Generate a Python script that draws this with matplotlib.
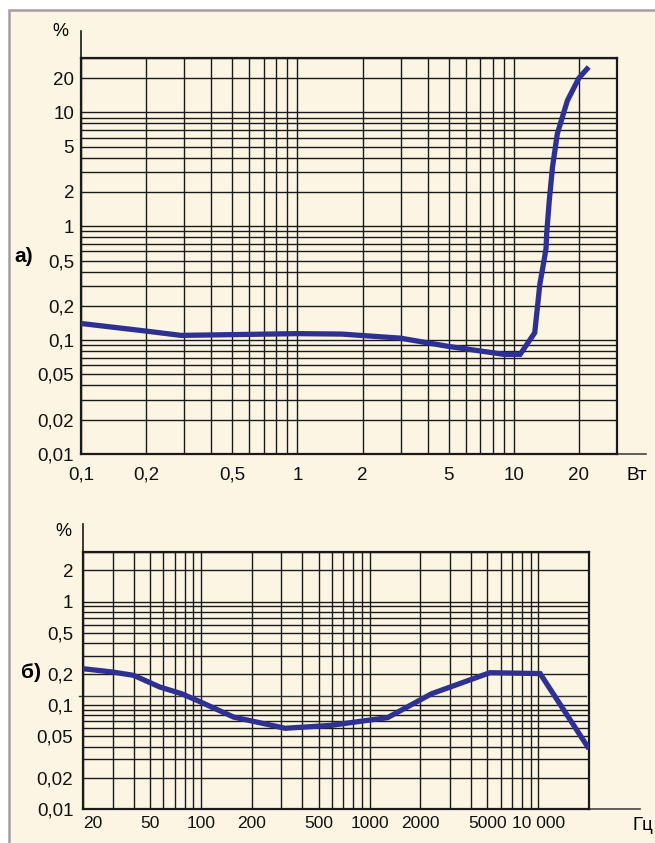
import matplotlib
matplotlib.use("Agg")
import matplotlib.pyplot as plt
from matplotlib.patches import Rectangle
from matplotlib.ticker import FixedLocator, LogLocator, NullFormatter

plt.rcParams["font.family"] = ["Liberation Sans Narrow", "Liberation Sans", "DejaVu Sans"]

# ── data ─────────────────────────────────────────────────────────────────────
# a) THD vs output power
power_w = [0.1, 0.2, 0.29, 1.0, 1.6, 3.0, 5.0, 9.0, 10.7, 12.5, 13.2, 13.8,
           14.1, 14.2, 14.6, 15.1, 15.9, 17.7, 20.0, 22.2]
thd_a = [0.14, 0.12, 0.11, 0.114, 0.113, 0.104, 0.088, 0.075, 0.075, 0.116,
         0.31, 0.50, 0.64, 0.87, 1.7, 3.3, 6.5, 12.7, 20.0, 25.0]

xticks_a = [0.1, 0.2, 0.5, 1, 2, 5, 10, 20]
xlabels_a = ["0,1", "0,2", "0,5", "1", "2", "5", "10", "20"]
yticks_a = [0.01, 0.02, 0.05, 0.1, 0.2, 0.5, 1, 2, 5, 10, 20]
ylabels_a = ["0,01", "0,02", "0,05", "0,1", "0,2", "0,5", "1", "2", "5", "10", "20"]

# б) THD vs frequency
freq_hz = [20, 30, 40, 57, 77, 99, 156, 316, 590, 1280, 2330, 5170, 10260, 20000]
thd_b = [0.225, 0.209, 0.194, 0.150, 0.129, 0.108, 0.077, 0.060, 0.064,
         0.076, 0.129, 0.206, 0.202, 0.038]

xticks_b = [20, 50, 100, 200, 500, 1000, 2000, 5000, 10000]
xlabels_b = ["20", "50", "100", "200", "500", "1000", "2000", "5000", "10 000"]
yticks_b = [0.01, 0.02, 0.05, 0.1, 0.2, 0.5, 1, 2]
ylabels_b = ["0,01", "0,02", "0,05", "0,1", "0,2", "0,5", "1", "2"]

CREAM = "#fdf5e4"
BLUE = "#2e3192"
INK = "#1a1a1a"

fig = plt.figure(figsize=(6.55, 8.43), dpi=100, facecolor="white")
# cream panel with grey border on top / left
fig.patches.append(Rectangle((9 / 655, -0.05), 1.1, 1.05 - 10 / 843,
                             transform=fig.transFigure, facecolor=CREAM,
                             edgecolor="#a0a0a0", linewidth=1.8, zorder=-5))


def setup_axes(ax, xlim, ylim, xticks, xlabels, yticks, ylabels, xpad, ypad,
               ext_x, ext_y, xsize=13.5):
    ax.set_xscale("log")
    ax.set_yscale("log")
    ax.set_xlim(*xlim)
    ax.set_ylim(*ylim)
    ax.set_facecolor("none")
    ax.xaxis.set_major_locator(FixedLocator(xticks))
    ax.yaxis.set_major_locator(FixedLocator(yticks))
    ax.set_xticklabels(xlabels)
    ax.set_yticklabels(ylabels)
    for axis in (ax.xaxis, ax.yaxis):
        axis.set_minor_locator(LogLocator(base=10, subs=range(2, 10), numticks=20))
        axis.set_minor_formatter(NullFormatter())
    ax.tick_params(which="both", length=0, labelsize=13.5, colors="#111111")
    ax.tick_params(axis="x", pad=xpad, labelsize=xsize)
    ax.tick_params(axis="y", pad=ypad)
    ax.grid(True, which="both", color=INK, linewidth=1.0)
    ax.set_axisbelow(True)
    for sp in ax.spines.values():
        sp.set_color(INK)
        sp.set_linewidth(1.6)
    # axis lines run on past the frame
    ax.plot([0, 0], [1, ext_y], transform=ax.transAxes, color=INK,
            lw=1.2, clip_on=False)
    ax.plot([1, ext_x], [0, 0], transform=ax.transAxes, color="#444444",
            lw=1.2, clip_on=False)


# ── a) ───────────────────────────────────────────────────────────────────────
ax1 = fig.add_axes([81 / 655, 1 - 454 / 843, 536 / 655, 396 / 843])
setup_axes(ax1, (0.1, 30), (0.01, 30), xticks_a, xlabels_a, yticks_a, ylabels_a,
           xpad=9, ypad=5, ext_x=1.054, ext_y=1.068)
ax1.plot(power_w, thd_a, color=BLUE, lw=3.8, solid_joinstyle="miter",
         solid_capstyle="butt", zorder=3)

fig.text(60 / 655, 1 - 31 / 843, "%", fontsize=13, ha="center", va="center")
fig.text(24 / 655, 1 - 256 / 843, "а)", fontsize=15, fontweight="bold",
         ha="center", va="center")
fig.text(637 / 655, 1 - 476 / 843, "Вт", fontsize=13.5, ha="center", va="center")

# ── б) ───────────────────────────────────────────────────────────────────────
ax2 = fig.add_axes([83 / 655, 1 - 809 / 843, 506 / 655, 257 / 843])
setup_axes(ax2, (20, 20000), (0.01, 3), xticks_b, xlabels_b, yticks_b, ylabels_b,
           xpad=5, ypad=7, ext_x=1.10, ext_y=1.109, xsize=12.5)
ax2.get_xticklabels()[0].set_ha("left")
# stray rule just above 0,1 in the original
ax2.plot([-0.008, 0.994], [0.122, 0.122], transform=ax2.get_yaxis_transform(),
         color="#333333", lw=1.0, clip_on=False)
ax2.plot(freq_hz, thd_b, color=BLUE, lw=3.8, solid_joinstyle="miter",
         solid_capstyle="butt", zorder=3)

fig.text(63 / 655, 1 - 532 / 843, "%", fontsize=13, ha="center", va="center")
fig.text(31 / 655, 1 - 672 / 843, "б)", fontsize=15, fontweight="bold",
         ha="center", va="center")
fig.text(632 / 655, 1 - 825 / 843, "Гц", fontsize=13.5, ha="left", va="center")

fig.savefig("out.png", dpi=100)
